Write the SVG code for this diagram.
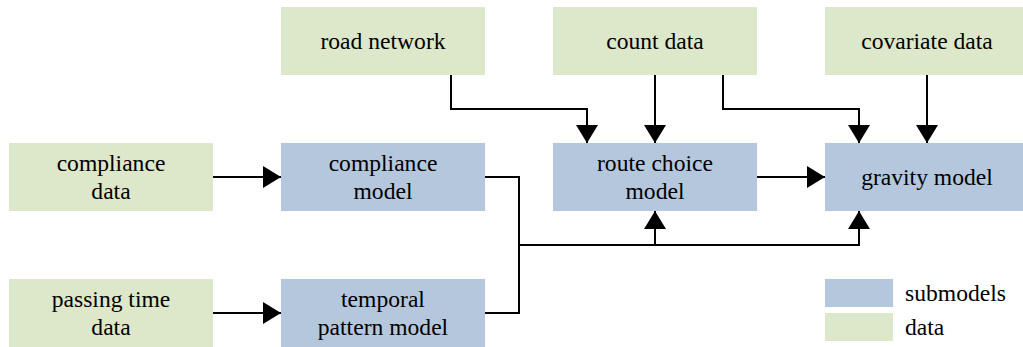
<svg xmlns="http://www.w3.org/2000/svg" width="1023" height="347" viewBox="0 0 1023 347">
<style>
.data{fill:#dde7c9}
.model{fill:#b4c7dd}
text{font-family:'Liberation Serif','Times New Roman',Times,Tinos,'DejaVu Serif',serif;font-size:23.6px;fill:#000;text-anchor:middle}
.leg{text-anchor:start}
.conn path{fill:none;stroke:#000;stroke-width:2;marker-end:url(#arr)}
.conn .plain{marker-end:none}
</style>
<defs>
<marker id="arr" markerUnits="userSpaceOnUse" markerWidth="19" markerHeight="22" refX="18" refY="11" orient="auto" overflow="visible">
<path d="M0,0 L18,11 L0,22 Z" fill="#000"/>
</marker>
</defs>
<rect width="1023" height="347" fill="#fff"/>
<g id="road-network"><rect class="data" x="281" y="7" width="204" height="68"/><text x="383" y="49">road network</text></g>
<g id="count-data"><rect class="data" x="553" y="7" width="204" height="68"/><text x="655" y="49">count data</text></g>
<g id="covariate-data"><rect class="data" x="825" y="7" width="204" height="68"/><text x="927" y="49">covariate data</text></g>
<g id="compliance-data"><rect class="data" x="9" y="143" width="204" height="68"/><text x="111" y="171">compliance</text><text x="111" y="199">data</text></g>
<g id="compliance-model"><rect class="model" x="281" y="143" width="204" height="68"/><text x="383" y="171">compliance</text><text x="383" y="199">model</text></g>
<g id="route-choice-model"><rect class="model" x="553" y="143" width="204" height="68"/><text x="655" y="171">route choice</text><text x="655" y="199">model</text></g>
<g id="gravity-model"><rect class="model" x="825" y="143" width="204" height="68"/><text x="927" y="185">gravity model</text></g>
<g id="passing-time-data"><rect class="data" x="9" y="279" width="204" height="68"/><text x="111" y="307">passing time</text><text x="111" y="335">data</text></g>
<g id="temporal-pattern-model"><rect class="model" x="281" y="279" width="204" height="68"/><text x="383" y="307">temporal</text><text x="383" y="335">pattern model</text></g>
<g id="legend">
<rect class="model" x="825" y="279" width="68" height="28"/><text class="leg" x="905" y="301">submodels</text>
<rect class="data" x="825" y="313" width="68" height="28"/><text class="leg" x="905" y="335">data</text>
</g>
<g class="conn" id="connectors">
<path d="M451,75 V109 H587 V143"/>
<path d="M655,75 V143"/>
<path d="M723,75 V109 H859 V143"/>
<path d="M927,75 V143"/>
<path d="M213,177 H281"/>
<path d="M213,313 H281"/>
<path d="M757,177 H825"/>
<path class="plain" d="M485,177 H519 V313 H485"/>
<path d="M519,245 H655 V211"/>
<path d="M655,245 H859 V211"/>
</g>
</svg>
